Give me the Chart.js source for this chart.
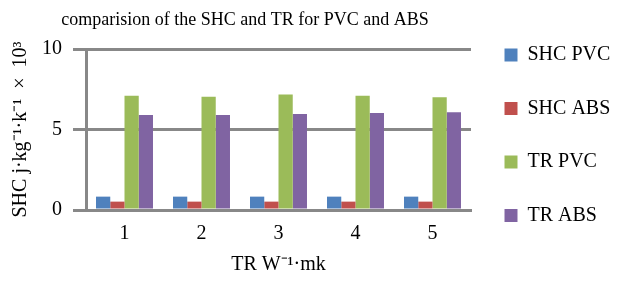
<!DOCTYPE html>
<html>
<head>
<meta charset="utf-8">
<script src="https://cdn.jsdelivr.net/npm/chart.js@4"></script>
<style>
  html, body { margin: 0; padding: 0; background: #fff; }
  #wrap { width: 619px; height: 281px; }
</style>
</head>
<body>
<div id="wrap"><canvas id="myChart"></canvas></div>
<script>
const categories = ['1', '2', '3', '4', '5'];
const shcPvc = [0.83, 0.83, 0.83, 0.83, 0.83];
const shcAbs = [0.52, 0.52, 0.52, 0.52, 0.52];
const trPvc = [7.1, 7.04, 7.18, 7.1, 7.0];
const trAbs = [5.9, 5.9, 5.97, 6.03, 6.07];
const yTicks = [0, 5, 10];

const chartTitle = 'comparision of the SHC and TR for PVC and ABS';
const serif = "'Liberation Serif', 'Times New Roman', serif";
const gridGrey = '#888888';

// draws the title a bit left of centre, like the original
const titleText = {
    id: 'titleText',
    afterDraw(chart) {
        const c = chart.ctx;
        c.save();
        c.font = '18px ' + serif;
        c.fillStyle = '#000';
        c.textAlign = 'center';
        c.textBaseline = 'alphabetic';
        c.fillText(chartTitle, 245, 25);
        c.restore();
    }
};

const ctx = document.getElementById('myChart').getContext('2d');

const myChart = new Chart(ctx, {
    type: 'bar',
    data: {
        labels: categories,
        datasets: [
            { label: 'SHC PVC', data: shcPvc, backgroundColor: '#4F81BD' },
            { label: 'SHC ABS', data: shcAbs, backgroundColor: '#C0504D' },
            { label: 'TR PVC', data: trPvc, backgroundColor: '#9BBB59' },
            { label: 'TR ABS', data: trAbs, backgroundColor: '#8064A2' }
        ]
    },
    options: {
        responsive: true,
        maintainAspectRatio: false,
        animation: false,
        datasets: {
            bar: { categoryPercentage: 0.74, barPercentage: 1.0 }
        },
        layout: { padding: 0 },
        plugins: {
            // empty title just reserves the space on top
            title: {
                display: true,
                text: '',
                font: { size: 18, lineHeight: 1 },
                padding: { top: 10, bottom: 21 }
            },
            tooltip: { enabled: false },
            legend: {
                position: 'right',
                align: 'start',
                maxWidth: 148,
                title: {
                    display: true,
                    text: '',
                    font: { size: 11.5, lineHeight: 1 },
                    padding: 0
                },
                labels: {
                    boxWidth: 13,
                    boxHeight: 13,
                    padding: 33.5,
                    color: '#000',
                    font: { family: serif, size: 20 }
                }
            }
        },
        scales: {
            x: {
                grid: { display: false, drawTicks: false },
                border: { display: true, color: gridGrey, width: 3 },
                ticks: {
                    color: '#000',
                    padding: 11.5,
                    font: { family: serif, size: 20 }
                },
                title: {
                    display: true,
                    text: 'TR W\u207B\u00B9\u00B7mk',
                    color: '#000',
                    font: { family: serif, size: 20, lineHeight: 1 },
                    padding: { top: -2, bottom: 6 }
                }
            },
            y: {
                min: 0,
                max: 10,
                afterBuildTicks: (scale) => {
                    scale.ticks = yTicks.map(v => ({ value: v }));
                },
                grid: {
                    color: gridGrey,
                    lineWidth: 3,
                    tickLength: 13
                },
                border: { display: true, color: gridGrey, width: 3 },
                ticks: {
                    color: '#000',
                    padding: 11,
                    font: { family: serif, size: 20 }
                },
                title: {
                    display: true,
                    text: 'SHC j\u00B7kg\u207B\u00B9\u00B7k\u207B\u00B9  \u00D7  10\u00B3',
                    color: '#000',
                    font: { family: serif, size: 20, lineHeight: 1 },
                    padding: { top: 11, bottom: 0 }
                }
            }
        }
    },
    plugins: [titleText]
});
</script>
</body>
</html>
